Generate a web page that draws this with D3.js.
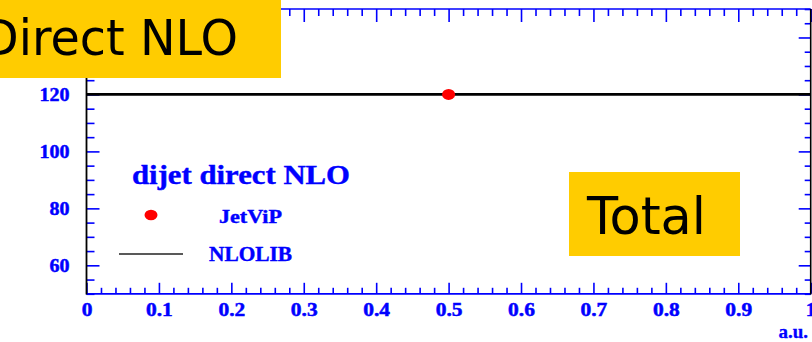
<!DOCTYPE html>
<html><head><meta charset="utf-8">
<script src="https://cdn.jsdelivr.net/npm/d3@7"></script>
<style>html,body{margin:0;padding:0;background:#fff;overflow:hidden}</style>
</head><body>
<svg id="c" width="812" height="342"></svg>
<script>
// ---- data ----
const xMajor = [0,0.1,0.2,0.3,0.4,0.5,0.6,0.7,0.8,0.9,1];
const xLabels = ["0","0.1","0.2","0.3","0.4","0.5","0.6","0.7","0.8","0.9","1"];
const yMajor = [60,80,100,120,140];
const yLabels = ["60","80","100","120","140"];
const xDomain = [0,1];
const yDomain = [50,150];
const jetvipX = [0.5];
const jetvipY = [120];
const nlolibX = [0,1];
const nlolibY = [120,120];
const legendTitle = "dijet direct NLO";
const legendNames = ["JetViP","NLOLIB"];
const xUnit = "a.u.";
const boxLabels = ["Direct NLO","Total"];

// ---- layout ----
const svg = d3.select("#c");
const L=86.5, R=810.7, T=9, B=293.8;
const blue="#0000ff";
const x = d3.scaleLinear().domain(xDomain).range([L,R]);
const y = d3.scaleLinear().domain(yDomain).range([B,T]);
const xMinor = d3.range(0,1.0001,0.02).map(v=>+v.toFixed(2)).filter(v=>!xMajor.some(m=>Math.abs(m-v)<1e-9));
const yMinor = d3.range(50,150.001,5).filter(v=>!yMajor.includes(v));
const font = "'Liberation Serif','Times New Roman',serif";

function style(g,col){ g.select(".domain").remove(); g.selectAll("line").attr("stroke",col).attr("stroke-width",1.6); }
function labelStyle(g){
  g.selectAll("text").attr("fill",blue).attr("font-family",font).attr("font-weight","bold")
   .attr("font-size",19).attr("stroke",blue).attr("stroke-width",0.5)
   .attr("transform","scale(1.13,1)");
}

// bottom axis
let g = svg.append("g").attr("transform",`translate(0,${B})`).call(d3.axisBottom(x).tickValues(xMinor).tickSize(-6).tickFormat(""));
style(g,blue);
g = svg.append("g").attr("transform",`translate(0,${B})`).call(d3.axisBottom(x).tickValues(xMajor).tickSizeInner(-11).tickSizeOuter(0).tickPadding(9).tickFormat((d,i)=>xLabels[i]));
style(g,blue); labelStyle(g);
// top axis
g = svg.append("g").attr("transform",`translate(0,${T})`).call(d3.axisTop(x).tickValues(xMinor).tickSize(-7).tickFormat(""));
style(g,blue);
g = svg.append("g").attr("transform",`translate(0,${T})`).call(d3.axisTop(x).tickValues(xMajor).tickSize(-13).tickFormat(""));
style(g,blue);
// left axis
g = svg.append("g").attr("transform",`translate(${L},0)`).call(d3.axisLeft(y).tickValues(yMinor).tickSize(-8).tickFormat(""));
style(g,blue);
g = svg.append("g").attr("transform",`translate(${L},0)`).call(d3.axisLeft(y).tickValues(yMajor).tickSizeInner(-13).tickSizeOuter(0).tickPadding(17).tickFormat((d,i)=>yLabels[i]));
style(g,blue); labelStyle(g);
g.selectAll(".tick text").attr("transform",null).attr("textLength",function(d){ return yLabels[yMajor.indexOf(d)].length*10; }).attr("lengthAdjust","spacingAndGlyphs");
// right axis
g = svg.append("g").attr("transform",`translate(${R},0)`).call(d3.axisRight(y).tickValues(yMinor).tickSize(-6).tickFormat(""));
style(g,blue);
g = svg.append("g").attr("transform",`translate(${R},0)`).call(d3.axisRight(y).tickValues(yMajor).tickSize(-12).tickFormat(""));
style(g,blue);

// frame lines
svg.append("line").attr("x1",L).attr("x2",R).attr("y1",B).attr("y2",B).attr("stroke",blue).attr("stroke-width",1.7);
svg.append("line").attr("x1",L).attr("x2",R).attr("y1",T).attr("y2",T).attr("stroke",blue).attr("stroke-width",1.7);
svg.append("line").attr("x1",L).attr("x2",L).attr("y1",T).attr("y2",B+0.8).attr("stroke","#000").attr("stroke-width",1.8);
svg.append("line").attr("x1",R).attr("x2",R).attr("y1",T).attr("y2",B+0.8).attr("stroke","#000").attr("stroke-width",1.6);

// NLOLIB line
const line = d3.line().x((d,i)=>x(nlolibX[i])).y((d,i)=>y(nlolibY[i]));
svg.append("path").attr("d",line(nlolibX)).attr("fill","none").attr("stroke","#000").attr("stroke-width",2.8);
// JetViP points
svg.selectAll(".pt").data(jetvipX).join("ellipse").attr("class","pt")
  .attr("cx",(d,i)=>x(d)).attr("cy",(d,i)=>y(jetvipY[i])).attr("rx",6.5).attr("ry",5.5).attr("fill","#ff0000");

// x unit
svg.append("text").attr("x",808).attr("y",338).attr("text-anchor","end").attr("fill",blue)
  .attr("stroke",blue).attr("stroke-width",0.3)
  .attr("font-family",font).attr("font-weight","bold").attr("font-size",19).text(xUnit);

// legend
const legTxt = (t,xx,yy,fs,len)=>svg.append("text").attr("x",xx).attr("y",yy).attr("fill",blue)
  .attr("stroke",blue).attr("stroke-width",0.4)
  .attr("font-family",font).attr("font-weight","bold").attr("font-size",fs)
  .attr("textLength",len).attr("lengthAdjust","spacingAndGlyphs").text(t);
legTxt(legendTitle,132,184,27.5,218);
svg.append("ellipse").attr("cx",151).attr("cy",215).attr("rx",6.5).attr("ry",5.2).attr("fill","#ff0000");
legTxt(legendNames[0],219,222.5,18,63);
svg.append("line").attr("x1",119).attr("x2",183).attr("y1",254).attr("y2",254).attr("stroke","#222").attr("stroke-width",1.6);
legTxt(legendNames[1],209,261,20,83);

// yellow boxes
const sans = "'DejaVu Sans','Noto Sans',sans-serif";
svg.append("rect").attr("x",0).attr("y",0).attr("width",281).attr("height",78).attr("fill","#ffcc00");
svg.append("text").attr("x",-18).attr("y",55).attr("fill","#000").attr("font-family",sans).attr("font-size",49)
  .attr("textLength",256).attr("lengthAdjust","spacingAndGlyphs").text(boxLabels[0]);
svg.append("rect").attr("x",569).attr("y",172).attr("width",171).attr("height",84).attr("fill","#ffcc00");
svg.append("text").attr("x",587).attr("y",234).attr("fill","#000").attr("font-family",sans).attr("font-size",52)
  .attr("textLength",119).attr("lengthAdjust","spacingAndGlyphs").text(boxLabels[1]);
</script>
</body></html>
